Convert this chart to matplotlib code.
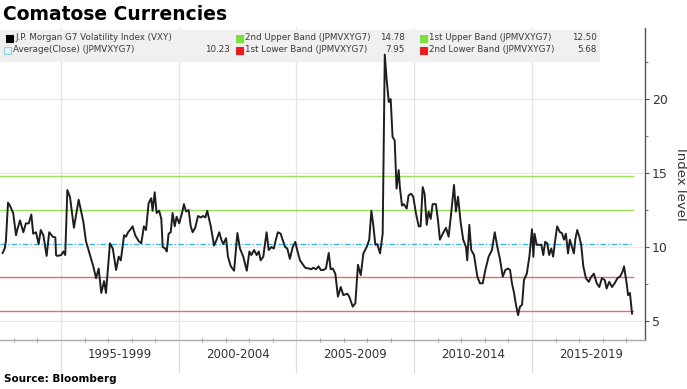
import matplotlib
matplotlib.use("Agg")
import matplotlib.pyplot as plt
from matplotlib.patches import Rectangle
import matplotlib.transforms as mtransforms

# ---------------- data ----------------
years = [1992.52, 1992.61, 1992.66, 1992.75, 1992.83, 1992.97, 1993.09, 1993.14, 1993.26, 1993.40,
         1993.51, 1993.63, 1993.74, 1993.82, 1993.94, 1994.05, 1994.14, 1994.25, 1994.39, 1994.50,
         1994.65, 1994.76, 1994.79, 1994.84, 1995.01, 1995.10, 1995.18, 1995.27, 1995.38, 1995.55,
         1995.75, 1995.95, 1996.06, 1996.23, 1996.37, 1996.49, 1996.60, 1996.71, 1996.83, 1996.91,
         1997.08, 1997.20, 1997.34, 1997.45, 1997.54, 1997.68, 1997.76, 1997.85, 1997.93, 1998.04,
         1998.15, 1998.30, 1998.41, 1998.52, 1998.61, 1998.72, 1998.83, 1998.89, 1998.98, 1999.06,
         1999.17, 1999.26, 1999.32, 1999.43, 1999.49, 1999.57, 1999.66, 1999.74, 1999.83, 1999.91,
         2000.02, 2000.14, 2000.22, 2000.31, 2000.42, 2000.51, 2000.59, 2000.70, 2000.82, 2000.93,
         2001.04, 2001.13, 2001.21, 2001.36, 2001.50, 2001.61, 2001.72, 2001.81, 2001.89, 2002.01,
         2002.09, 2002.21, 2002.35, 2002.49, 2002.60, 2002.74, 2002.89, 2003.00, 2003.08, 2003.20,
         2003.31, 2003.40, 2003.48, 2003.59, 2003.73, 2003.82, 2003.93, 2004.04, 2004.10, 2004.21,
         2004.33, 2004.41, 2004.52, 2004.61, 2004.72, 2004.84, 2004.95, 2005.03, 2005.15, 2005.26,
         2005.37, 2005.52, 2005.63, 2005.71, 2005.83, 2005.94, 2006.03, 2006.14, 2006.25, 2006.37,
         2006.45, 2006.54, 2006.65, 2006.76, 2006.88, 2006.99, 2007.16, 2007.24, 2007.39, 2007.50,
         2007.61, 2007.73, 2007.84, 2007.98, 2008.09, 2008.18, 2008.26, 2008.35, 2008.43, 2008.55,
         2008.66, 2008.75, 2008.83, 2008.92, 2009.00, 2009.08, 2009.17, 2009.25, 2009.34, 2009.39,
         2009.48, 2009.56, 2009.68, 2009.76, 2009.87, 2009.96, 2010.07, 2010.19, 2010.27, 2010.36,
         2010.44, 2010.53, 2010.61, 2010.70, 2010.78, 2010.92, 2011.01, 2011.09, 2011.21, 2011.35,
         2011.46, 2011.57, 2011.69, 2011.77, 2011.86, 2011.97, 2012.08, 2012.20, 2012.25, 2012.34,
         2012.42, 2012.54, 2012.68, 2012.79, 2012.91, 2013.02, 2013.16, 2013.30, 2013.42, 2013.53,
         2013.64, 2013.76, 2013.87, 2013.98, 2014.07, 2014.15, 2014.24, 2014.32, 2014.41, 2014.49,
         2014.58, 2014.66, 2014.78, 2014.89, 2015.00, 2015.06, 2015.11, 2015.20, 2015.31, 2015.40,
         2015.48, 2015.56, 2015.65, 2015.73, 2015.82, 2015.90, 2015.99, 2016.07, 2016.19, 2016.27,
         2016.36, 2016.44, 2016.53, 2016.61, 2016.70, 2016.78, 2016.84, 2016.92, 2017.01, 2017.09,
         2017.18, 2017.29, 2017.41, 2017.52, 2017.63, 2017.75, 2017.86, 2017.97, 2018.09, 2018.17,
         2018.28, 2018.40, 2018.51, 2018.63, 2018.74, 2018.85, 2018.91, 2019.02, 2019.08, 2019.16,
         2019.25]
vxy = [9.6, 9.9, 10.4, 13.0, 12.8, 12.3, 10.8, 11.15, 11.8, 11.0,
       11.6, 11.6, 12.2, 10.9, 11.0, 10.2, 11.15, 10.8, 9.4, 11.0,
       10.7, 10.65, 9.46, 9.4, 9.46, 9.7, 9.46, 13.85, 13.4, 11.3,
       13.2, 11.7, 10.4, 9.46, 8.7, 7.9, 8.55, 6.9, 7.7, 6.9,
       10.25, 9.9, 8.45, 9.35, 9.1, 10.8, 10.7, 11.0, 11.15, 11.4,
       10.8, 10.4, 10.25, 11.4, 11.15, 12.95, 13.3, 12.45, 13.7, 12.3,
       12.45, 11.9, 10.0, 9.9, 9.7, 10.9, 11.0, 12.3, 11.4, 12.05,
       11.6, 12.3, 12.9, 12.4, 12.5, 11.4, 11.0, 11.3, 12.1, 12.0,
       12.1, 12.0, 12.45, 11.4, 10.1, 10.5, 11.0, 10.5, 10.2, 10.6,
       9.35, 8.7, 8.4, 10.95, 9.9, 9.35, 8.4, 9.7, 9.46, 9.8,
       9.46, 9.7, 9.1, 9.35, 11.0, 9.8, 10.0, 9.9, 10.35, 11.0,
       10.9, 10.5, 10.0, 9.9, 9.2, 10.0, 10.35, 9.8, 9.1, 8.85,
       8.6, 8.55, 8.5, 8.6, 8.5, 8.7, 8.45, 8.45, 8.55, 9.6,
       8.5, 8.55, 8.2, 6.65, 7.3, 6.75, 6.85, 6.65, 5.97, 6.2,
       8.8, 8.1, 9.57, 10.0, 10.5, 12.45, 11.5, 10.15, 10.2, 9.57,
       10.9, 23.0, 21.3, 19.8, 20.0, 17.45, 17.2, 13.95, 15.2, 14.05,
       12.8, 12.9, 12.6, 13.5, 13.6, 13.4, 12.3, 11.4, 11.4, 14.05,
       13.6, 11.5, 12.4, 11.9, 12.9, 12.9, 11.8, 10.5, 10.9, 11.3,
       10.7, 12.3, 14.2, 12.4, 13.4, 11.7, 10.5, 10.0, 9.1, 11.5,
       9.8, 9.46, 8.0, 7.55, 7.55, 8.45, 9.35, 9.8, 11.0, 10.0,
       9.2, 8.0, 8.45, 8.55, 8.45, 7.55, 6.9, 6.1, 5.4, 5.97,
       6.1, 7.77, 8.2, 9.35, 11.2, 9.35, 10.9, 10.15, 10.15, 10.15,
       9.46, 10.35, 10.25, 9.46, 9.9, 9.35, 10.5, 11.4, 11.0, 10.95,
       10.5, 10.9, 9.57, 10.5, 10.0, 9.57, 10.5, 11.15, 10.7, 10.15,
       8.7, 7.9, 7.65, 8.0, 8.2, 7.55, 7.3, 7.9, 7.77, 7.2,
       7.65, 7.3, 7.55, 7.9, 8.0, 8.35, 8.7, 7.55, 6.75, 6.9,
       5.5]

band_names = ["2nd Upper Band (JPMVXYG7)", "1st Upper Band (JPMVXYG7)",
              "Average(Close) (JPMVXYG7)", "1st Lower Band (JPMVXYG7)",
              "2nd Lower Band (JPMVXYG7)"]
band_values = [14.78, 12.50, 10.23, 7.95, 5.68]
period_labels = ["1995-1999", "2000-2004", "2005-2009", "2010-2014", "2015-2019"]
period_starts = [1995, 2000, 2005, 2010, 2015]
y_ticks = [5, 10, 15, 20]

# ---------------- figure ----------------
W, H = 687, 389
fig = plt.figure(figsize=(W / 100, H / 100), dpi=100)
fig.patch.set_facecolor("white")

def fx(x):
    return x / W

def fy(y):
    return 1 - y / H

ax_left, ax_right, ax_top, ax_bot = 0, 645, 28, 340
ax = fig.add_axes([fx(ax_left), fy(ax_bot), fx(ax_right - ax_left), (ax_bot - ax_top) / H])
ax.set_facecolor("white")
ax.set_xlim(1992.41, 2019.80)
ax.set_ylim(3.72, 24.8)

# grid
for v in y_ticks:
    ax.axhline(v, color="#e8e8e8", lw=0.9, zorder=1)
for s in period_starts:
    ax.axvline(s, color="#e4e4e4", lw=0.9, zorder=1)

# bands
band_colors = ["#9ae05a", "#9ae05a", "#35b8e8", "#e86a6a", "#e86a6a"]
band_styles = ["-", "-", (0, (4, 1.5, 1, 1.5)), "-", "-"]
for v, c, ls in zip(band_values, band_colors, band_styles):
    ax.axhline(v, xmax=(2019.3 - 1992.41) / (2019.80 - 1992.41), color=c, lw=1.0, ls=ls, zorder=2)

# series
ax.plot(years, vxy, color="#1e1e1e", lw=1.4, zorder=4, solid_joinstyle="round")

# spines / ticks
for sp in ["top", "left"]:
    ax.spines[sp].set_visible(False)
ax.spines["right"].set_color("#555555")
ax.spines["right"].set_linewidth(1.0)
ax.spines["bottom"].set_color("#aaaaaa")
ax.spines["bottom"].set_linewidth(1.0)

ax.yaxis.tick_right()
ax.set_yticks(y_ticks)
ax.set_yticks([7.5, 12.5, 17.5, 22.5], minor=True)
ax.tick_params(axis="y", which="major", length=3, width=0.8, color="#555555",
               labelsize=9, labelcolor="#333333", pad=2)
ax.tick_params(axis="y", which="minor", length=2, width=0.8, color="#777777")
ax.yaxis.set_label_position("right")
ax.set_ylabel("Index level", rotation=270, fontsize=9.5, color="#333333", labelpad=14)

ax.set_xticks(period_starts)
ax.set_xticklabels([])
ax.set_xticks(list(range(1993, 2020)), minor=True)
ax.tick_params(axis="x", which="major", length=24, width=0.9, color="#dddddd", direction="out")
ax.tick_params(axis="x", which="minor", length=3, width=0.7, color="#999999", direction="inout")

trans = mtransforms.blended_transform_factory(ax.transData, ax.transAxes)
for s, lab in zip(period_starts, period_labels):
    ax.text(s + 2.5, -(354 - ax_bot) / (ax_bot - ax_top), lab, transform=trans,
            ha="center", va="center", fontsize=8.5, color="#333333")

# ---------------- title & source ----------------
fig.text(fx(3), fy(14), "Comatose Currencies", fontsize=13.5, fontweight="bold",
         ha="left", va="center", color="#000000")
fig.text(fx(4), fy(379), "Source: Bloomberg", fontsize=7.5, fontweight="bold",
         ha="left", va="center", color="#000000")

# ---------------- legend ----------------
bg = Rectangle((fx(0), fy(62)), fx(600), (62 - 30) / H, transform=fig.transFigure,
               facecolor="#f0f0f0", edgecolor="none", zorder=3, clip_on=False)
ax.add_patch(bg)

leg_fs = 6.3
leg_col = "#3a3a3a"

def marker(x, y, face, edge=None):
    r = Rectangle((fx(x), fy(y + 3.5)), 7 / W, 7 / H, transform=fig.transFigure,
                  facecolor=face, edgecolor=edge if edge else face, lw=0.8)
    fig.patches.append(r)

r1, r2 = 38, 50
marker(6, r1, "#000000")
fig.text(fx(15), fy(r1), "J.P. Morgan G7 Volatility Index (VXY)", fontsize=leg_fs,
         color=leg_col, va="center", ha="left")
marker(4, r2, "#eaf6fc", "#8fd0ee")
fig.text(fx(13), fy(r2), band_names[2], fontsize=leg_fs, color=leg_col, va="center", ha="left")
fig.text(fx(230), fy(r2), f"{band_values[2]:.2f}", fontsize=leg_fs, color=leg_col,
         va="center", ha="right")

marker(236, r1, "#7ce03c")
fig.text(fx(245), fy(r1), band_names[0], fontsize=leg_fs, color=leg_col, va="center", ha="left")
fig.text(fx(405), fy(r1), f"{band_values[0]:.2f}", fontsize=leg_fs, color=leg_col,
         va="center", ha="right")
marker(236, r2, "#ee1c1c")
fig.text(fx(245), fy(r2), band_names[3], fontsize=leg_fs, color=leg_col, va="center", ha="left")
fig.text(fx(405), fy(r2), f"{band_values[3]:.2f}", fontsize=leg_fs, color=leg_col,
         va="center", ha="right")

marker(420, r1, "#7ce03c")
fig.text(fx(429), fy(r1), band_names[1], fontsize=leg_fs, color=leg_col, va="center", ha="left")
fig.text(fx(597), fy(r1), f"{band_values[1]:.2f}", fontsize=leg_fs, color=leg_col,
         va="center", ha="right")
marker(420, r2, "#ee1c1c")
fig.text(fx(429), fy(r2), band_names[4], fontsize=leg_fs, color=leg_col, va="center", ha="left")
fig.text(fx(597), fy(r2), f"{band_values[4]:.2f}", fontsize=leg_fs, color=leg_col,
         va="center", ha="right")

fig.savefig("out.png", dpi=100, facecolor="white")
